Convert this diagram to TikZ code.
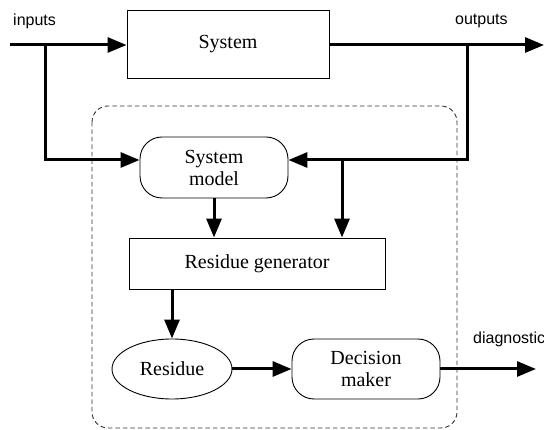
\documentclass[tikz,border=0pt]{standalone}
\usepackage{fontspec}
\setmainfont{Liberation Serif}
\setsansfont{Liberation Sans}
\usetikzlibrary{arrows.meta,shapes.geometric}
\begin{document}
\begin{tikzpicture}[x=1pt,y=-1pt,
  blk/.style={draw,line width=0.9pt,font=\fontsize{20}{22}\selectfont,align=center,inner sep=0pt},
  flow/.style={line width=3pt,-{Triangle[length=19pt,width=15pt]}},
  lbl/.style={font=\sffamily\fontsize{16}{18}\selectfont,inner sep=0pt}]
\useasboundingbox (0,0) rectangle (544,430);
% dashed frame
\draw[line width=0.9pt,dash pattern=on 4.5pt off 3pt,draw=black!80,rounded corners=16pt] (92,106) rectangle (457,428);
% nodes
\node[blk,minimum width=202pt,minimum height=68pt] (sys) at (228,44) {System};
\node[blk,rounded corners=22pt,minimum width=148pt,minimum height=61pt] (model) at (214,167.5) {System\\model};
\node[blk,minimum width=256pt,minimum height=51pt] (gen) at (257,263.5) {Residue generator};
\node[blk,ellipse,minimum width=120pt,minimum height=60pt] (res) at (172,369) {Residue};
\node[blk,rounded corners=22pt,minimum width=148pt,minimum height=60pt] (dec) at (366,369) {Decision\\maker};
% labels
\node[lbl,anchor=west] (lin) at (13,21) {inputs};
\node[lbl,anchor=west] (lout) at (455,21) {outputs};
\node[lbl,anchor=west] (ldiag) at (473,339) {diagnostic};
% coordinates
\coordinate (inS) at (10,45);
\coordinate (inB) at (45,45);
\coordinate (outB) at (467,45);
\coordinate (outE) at (544,45);
\coordinate (fbY) at (0,160);
\coordinate (fbB) at (342,160);
\coordinate (diagE) at (536,369);
% connectors
\draw[flow] (inS) -- (sys.west |- inS);
\draw[flow] (inB) |- (model.west |- fbY);
\draw[flow] (sys.east |- outB) -- (outE);
\draw[flow] (outB) |- (model.east |- fbY);
\draw[flow] (fbB) -- (fbB |- gen.north);
\draw[flow] (model.south) -- (model.south |- gen.north);
\draw[flow] (gen.south -| res.north) -- (res.north);
\draw[flow] (res.east) -- (dec.west);
\draw[flow] (dec.east) -- (diagE);
\end{tikzpicture}
\end{document}
